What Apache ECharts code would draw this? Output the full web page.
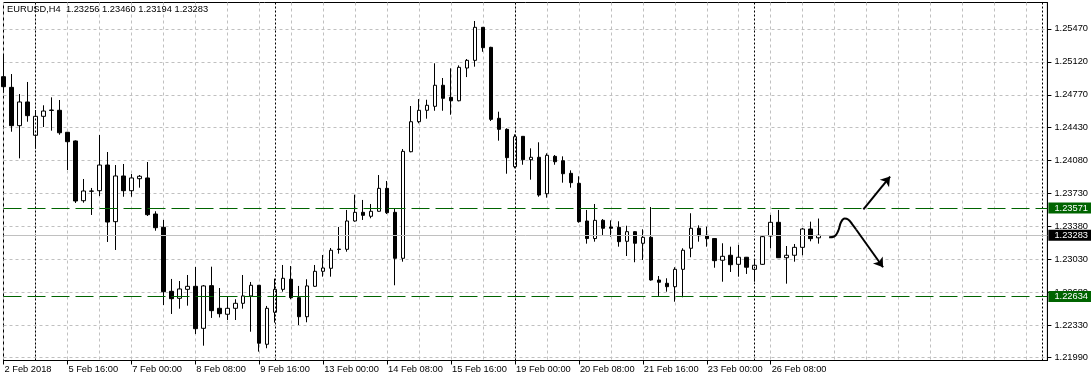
<!DOCTYPE html>
<html>
<head>
<meta charset="utf-8">
<script src="https://cdn.jsdelivr.net/npm/echarts@6/dist/echarts.min.js"></script>
<style>
html,body{margin:0;padding:0;background:#fff;}
#chart{width:1091px;height:382px;}
</style>
</head>
<body>
<div id="chart"></div>
<script>
// ---------------- data ----------------
const symbolName = 'EURUSD,H4';

const barOpen = [
1.24963,1.24850,1.24444,1.24695,1.24342,1.24543,1.24605,1.24607,1.24374,1.24282,
1.23649,1.23749,1.23755,1.24027,1.23427,1.23911,1.23755,1.23882,1.23890,1.23508,
1.23367,1.22689,1.22615,1.22710,1.22742,1.22297,1.22749,1.22509,1.22446,1.22509,
1.22562,1.22640,1.22753,1.22128,1.22467,1.22710,1.22817,1.22622,1.22420,1.22742,
1.22901,1.22933,1.23132,1.23134,1.23434,1.23526,1.23484,1.23537,1.23780,1.23526,
1.23039,1.24168,1.24486,1.24607,1.24649,1.24872,1.24744,1.24708,1.25055,1.25136,
1.25486,1.25274,1.24522,1.24405,1.24009,1.24331,1.24083,1.24109,1.23723,1.24119,
1.24073,1.23939,1.23833,1.23434,1.23248,1.23441,1.23371,1.23367,1.23219,1.23321,
1.23198,1.23261,1.22809,1.22774,1.22738,1.22922,1.23145,1.23357,1.23283,1.23248,
1.23018,1.23071,1.22975,1.23050,1.22922,1.22975,1.23275,1.23420,1.23045,1.23071,
1.23155,1.23349,1.23256
];
const barHigh = [
1.25182,1.24991,1.24779,1.24907,1.24610,1.24660,1.24744,1.24716,1.24377,1.24288,
1.23879,1.23784,1.24345,1.24165,1.24027,1.24038,1.23932,1.23921,1.24059,1.23537,
1.23445,1.22820,1.22798,1.22862,1.22947,1.22756,1.22950,1.22724,1.22632,1.22605,
1.22862,1.22788,1.22756,1.22534,1.22823,1.22968,1.22957,1.22746,1.22817,1.22968,
1.23074,1.23148,1.23371,1.23551,1.23713,1.23657,1.23614,1.23921,1.23858,1.23561,
1.24197,1.24652,1.24726,1.24719,1.25105,1.24949,1.25052,1.25083,1.25150,1.25553,
1.25489,1.25280,1.24592,1.24416,1.24352,1.24334,1.24204,1.24268,1.24151,1.24133,
1.24119,1.23971,1.23908,1.23551,1.23614,1.23455,1.23441,1.23431,1.23384,1.23325,
1.23346,1.23582,1.22851,1.22827,1.22944,1.23145,1.23516,1.23388,1.23374,1.23252,
1.23198,1.23162,1.23180,1.23053,1.23021,1.23275,1.23498,1.23551,1.23169,1.23190,
1.23360,1.23427,1.23460
];
const barLow = [
1.24793,1.24380,1.24098,1.24486,1.24200,1.24430,1.24391,1.24348,1.23974,1.23625,
1.23628,1.23498,1.23699,1.23212,1.23127,1.23691,1.23691,1.23787,1.23487,1.23331,
1.22544,1.22449,1.22505,1.22537,1.22237,1.22113,1.22407,1.22412,1.22385,1.22385,
1.22505,1.22261,1.22050,1.22086,1.22357,1.22685,1.22605,1.22332,1.22361,1.22738,
1.22844,1.22844,1.23088,1.23109,1.23427,1.23445,1.23463,1.23533,1.23508,1.22753,
1.23003,1.24162,1.24469,1.24518,1.24602,1.24602,1.24560,1.24702,1.24959,1.25069,
1.25227,1.24493,1.24285,1.23935,1.23992,1.24030,1.23872,1.23691,1.23681,1.24030,
1.23840,1.23787,1.23416,1.23194,1.23215,1.23286,1.23268,1.23162,1.23063,1.22997,
1.23021,1.22802,1.22640,1.22685,1.22579,1.22626,1.23050,1.23215,1.23162,1.22939,
1.22791,1.22894,1.22844,1.22873,1.22791,1.22969,1.23145,1.23042,1.22770,1.23003,
1.23071,1.23219,1.23194
];
const barClose = [
1.24857,1.24444,1.24695,1.24550,1.24543,1.24599,1.24610,1.24369,1.24274,1.23646,
1.23752,1.23752,1.24027,1.23423,1.23911,1.23755,1.23890,1.23908,1.23501,1.23363,
1.22685,1.22611,1.22714,1.22742,1.22293,1.22746,1.22484,1.22452,1.22509,1.22562,
1.22640,1.22753,1.22139,1.22509,1.22710,1.22827,1.22622,1.22420,1.22746,1.22901,
1.22936,1.23124,1.23137,1.23434,1.23526,1.23494,1.23537,1.23780,1.23522,1.23039,
1.24172,1.24486,1.24607,1.24660,1.24872,1.24734,1.24708,1.25062,1.25136,1.25486,
1.25270,1.24511,1.24405,1.24105,1.24327,1.24083,1.24109,1.23709,1.24130,1.24062,
1.23935,1.23840,1.23427,1.23248,1.23441,1.23357,1.23357,1.23215,1.23321,1.23198,
1.23261,1.22809,1.22785,1.22738,1.22922,1.23124,1.23357,1.23278,1.23247,1.23014,
1.23060,1.22971,1.23050,1.22944,1.22965,1.23268,1.23420,1.23045,1.23071,1.23155,
1.23349,1.23247,1.23283
];

// x axis tick labels (bar index of each label, text)
const xTickBars = [0, 8, 16, 24, 32, 40, 48, 56, 64, 72, 80, 88, 96];
const xTickLabels = ['2 Feb 2018','5 Feb 16:00','7 Feb 00:00','8 Feb 08:00','9 Feb 16:00',
  '13 Feb 00:00','14 Feb 08:00','15 Feb 16:00','19 Feb 00:00','20 Feb 08:00',
  '21 Feb 16:00','23 Feb 00:00','26 Feb 08:00'];
// y axis tick labels (price)
const yTicks = [1.2199, 1.2233, 1.2268, 1.2303, 1.2338, 1.2373, 1.2408, 1.2443, 1.2477, 1.2512, 1.2547];

// horizontal levels and bid price
const levels = [1.23571, 1.22634];
const bidPrice = 1.23283;
// weekly period separators (bar index) and the right-edge marker
const separatorBars = [4, 34, 64, 94, 130];

// hand-drawn annotation arrows, in [bar index, price]
const downCurve = [[103.31,1.23261],[103.94,1.23270],[104.44,1.23328],[104.81,1.23423],
  [105.25,1.23460],[105.69,1.23450],[106.19,1.23402],[106.69,1.23344]];
const downArrowEnd = [110.06, 1.22944];
const upArrow = [[107.6, 1.23558], [110.94, 1.23905]];

// ---------------- chart ----------------
const FONT = '"Liberation Sans", Arial, Helvetica, sans-serif';
const FS = 9.3;
const X_MAX = 130.625;

const candles = barOpen.map((o, i) => [i, o, barClose[i], barLow[i], barHigh[i]]);
const last = barOpen.length - 1;
const titleText = symbolName + '  ' +
  [barOpen[last], barHigh[last], barLow[last], barClose[last]].map(v => v.toFixed(5)).join(' ');

const chart = echarts.init(document.getElementById('chart'), null, {renderer: 'canvas'});

const option = {
  animation: false,
  backgroundColor: '#fff',
  title: {
    text: titleText, left: 7, top: 5, padding: 0,
    textStyle: {fontFamily: FONT, fontSize: FS, fontWeight: 'normal', color: '#000'}
  },
  grid: {
    left: 3.5, right: 42.5, top: 2.5, bottom: 21.5,
    show: true, borderColor: '#000', borderWidth: 1, backgroundColor: '#fff'
  },
  xAxis: [
    {
      type: 'value', min: 0, max: X_MAX, interval: 4, position: 'bottom',
      axisLine: {show: true, onZero: false, lineStyle: {color: '#000', width: 1}},
      axisTick: {show: false},
      axisLabel: {show: false},
      splitLine: {show: true, lineStyle: {color: '#c0c0c0', type: [3, 3], width: 1}}
    },
    {
      type: 'value', min: 0, max: X_MAX, position: 'bottom',
      axisLine: {show: false, onZero: false},
      splitLine: {show: false},
      axisTick: {show: true, customValues: xTickBars, length: 4, lineStyle: {color: '#000'}},
      axisLabel: {
        show: true, customValues: xTickBars,
        formatter: v => { const k = xTickBars.indexOf(Math.round(v)); return k >= 0 ? xTickLabels[k] : ''; },
        align: 'left', margin: 4, padding: [0, 0, 0, 1],
        fontFamily: FONT, fontSize: FS, color: '#000'
      }
    }
  ],
  yAxis: {
    type: 'value', position: 'right', min: 1.21956, max: 1.25749, scale: true,
    axisLine: {show: true, onZero: false, lineStyle: {color: '#000'}},
    axisTick: {show: true, customValues: yTicks, length: 4, lineStyle: {color: '#000'}},
    axisLabel: {
      show: true, customValues: yTicks, formatter: v => v.toFixed(5), margin: 7,
      fontFamily: FONT, fontSize: FS, color: '#000'
    },
    splitLine: {show: true, lineStyle: {color: '#c0c0c0', type: [3, 3], width: 1}}
  },
  series: [
    {
      // period separators + bid line (behind the candles)
      type: 'line', data: [], z: 1, silent: true, symbol: 'none',
      markLine: {
        silent: true, animation: false, symbol: ['none', 'none'], precision: 5,
        emphasis: {disabled: true},
        data: [
          ...separatorBars.map(b => ({xAxis: b, lineStyle: {color: '#000', type: [2, 2], width: 1}, label: {show: false}})),
          {
            yAxis: bidPrice,
            lineStyle: {color: '#c0c0c0', type: 'solid', width: 1},
            label: {
              show: true, position: 'end', distance: 1, formatter: p => Number(p.value).toFixed(5),
              color: '#fff', backgroundColor: '#000', padding: [1, 3, 0, 6], lineHeight: 10,
              fontFamily: FONT, fontSize: FS
            }
          }
        ]
      }
    },
    {
      type: 'candlestick', name: symbolName, data: candles, barWidth: 4, z: 3, silent: true, clip: true,
      itemStyle: {
        color: '#fff', color0: '#000',
        borderColor: '#000', borderColor0: '#000', borderColorDoji: '#000', borderWidth: 1
      },
      emphasis: {disabled: true}
    },
    {
      // support / resistance levels
      type: 'line', data: [], z: 5, silent: true, symbol: 'none',
      markLine: {
        silent: true, animation: false, symbol: ['none', 'none'], precision: 5,
        emphasis: {disabled: true},
        lineStyle: {color: '#006400', type: [18, 6], width: 1},
        label: {
          show: true, position: 'end', distance: 1, formatter: p => Number(p.value).toFixed(5),
          color: '#fff', backgroundColor: '#006400', padding: [1, 3, 0, 6], lineHeight: 10,
          fontFamily: FONT, fontSize: FS
        },
        data: levels.map(v => ({yAxis: v}))
      }
    },
    {
      // hand-drawn forecast arrows
      type: 'line', data: downCurve, smooth: 0.45, symbol: 'none', z: 6, silent: true, clip: false,
      lineStyle: {color: '#000', width: 2},
      markLine: {
        silent: true, animation: false, symbol: ['none', 'arrow'], symbolSize: 9, precision: 5,
        emphasis: {disabled: true},
        lineStyle: {color: '#000', type: 'solid', width: 2},
        label: {show: false},
        data: [
          [{coord: upArrow[0]}, {coord: upArrow[1]}],
          [{coord: downCurve[downCurve.length - 1]}, {coord: downArrowEnd}]
        ]
      }
    }
  ]
};

chart.setOption(option);
</script>
</body>
</html>
